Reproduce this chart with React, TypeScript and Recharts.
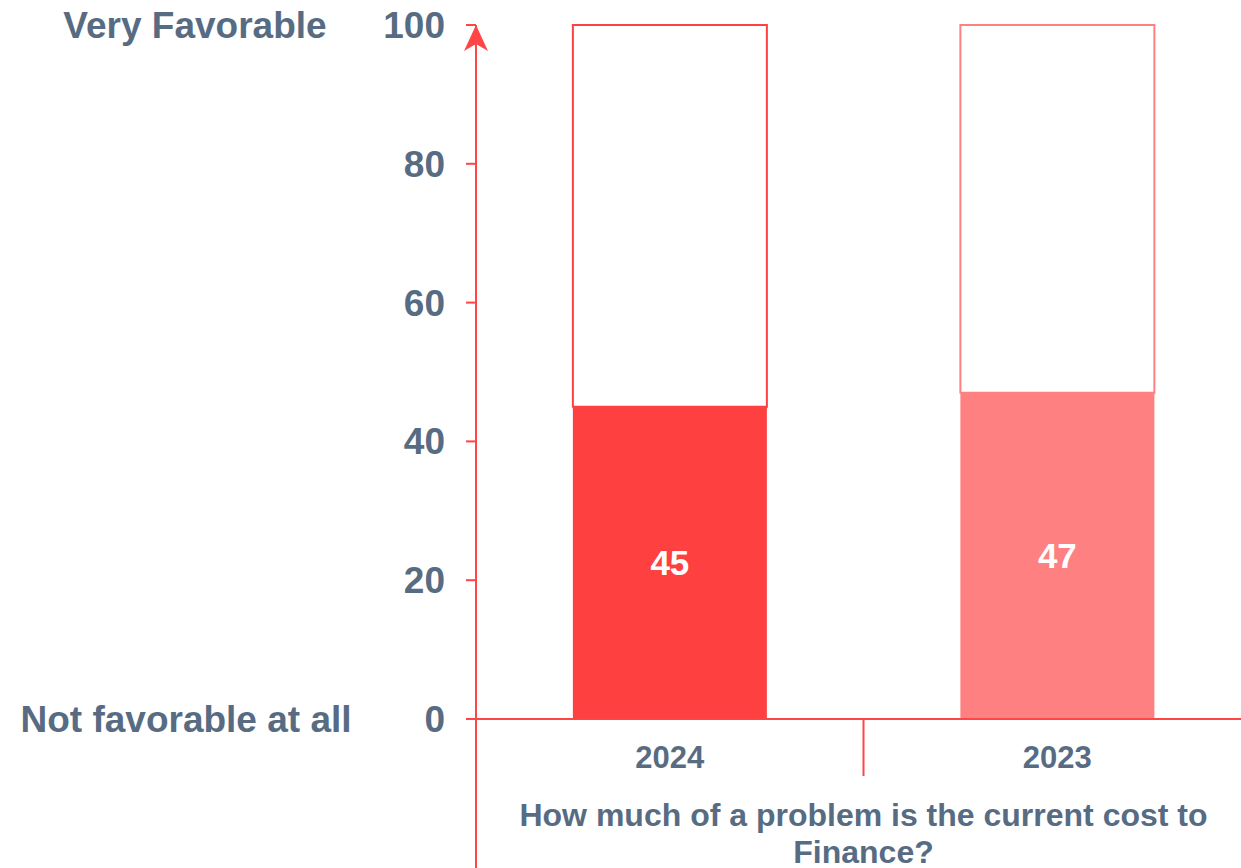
import { BarChart, Bar, XAxis, YAxis, Cell, LabelList } from 'recharts';

const categories = ['2024', '2023'];
const scores = [45, 47];
const barColors = ['#FF4040', '#FF8080'];
const yTicks = [0, 20, 40, 60, 80, 100];
const topLabel = 'Very Favorable';
const bottomLabel = 'Not favorable at all';
const titleLines = ['How much of a problem is the current cost to', 'Finance?'];

const data = categories.map((name, i) => ({
  name,
  value: scores[i],
  rest: 100 - scores[i],
}));

const CHART_W = 1251;
const CHART_H = 868;
const Y_W = 476;
const X_H = 149;
const TEXT = '#576C82';
const AXIS = '#FF4545';
const FONT = '"Liberation Sans", Arial, sans-serif';
const BAND = (CHART_W - Y_W) / categories.length;
// recharts hands the tick y as axis y + tickSize + tickMargin
const X_TICK_OFFSET = 8;

function YTick({ y, payload }: { y: number; payload: { value: number } }) {
  const v = payload.value;
  return (
    <g>
      <text
        x={Y_W - 31}
        y={y}
        dy='0.35em'
        textAnchor='end'
        fill={TEXT}
        fontSize={37}
        fontWeight='bold'
        fontFamily={FONT}
      >
        {v}
      </text>
      {v === 100 && (
        <>
          <text
            x={195}
            y={y}
            dy='0.35em'
            textAnchor='middle'
            fill={TEXT}
            fontSize={37}
            fontWeight='bold'
            fontFamily={FONT}
          >
            {topLabel}
          </text>
          <path
            d={`M${Y_W},${y} L${Y_W + 12},${y + 26} L${Y_W},${y + 19} L${Y_W - 12},${y + 26} Z`}
            fill={AXIS}
          />
        </>
      )}
      {v === 0 && (
        <>
          <text
            x={186}
            y={y}
            dy='0.35em'
            textAnchor='middle'
            fill={TEXT}
            fontSize={37}
            fontWeight='bold'
            fontFamily={FONT}
          >
            {bottomLabel}
          </text>
          <line x1={Y_W} y1={y} x2={Y_W} y2={y + 200} stroke={AXIS} strokeWidth={2} />
        </>
      )}
    </g>
  );
}

function XTick({ x, y, payload, index }: { x: number; y: number; payload: { value: string }; index: number }) {
  const axisY = y - X_TICK_OFFSET;
  return (
    <g>
      <text
        x={x}
        y={axisY + 38}
        dy='0.35em'
        textAnchor='middle'
        fill={TEXT}
        fontSize={31}
        fontWeight='bold'
        fontFamily={FONT}
      >
        {payload.value}
      </text>
      {index < categories.length - 1 && (
        <line x1={x + BAND / 2} y1={axisY} x2={x + BAND / 2} y2={axisY + 57} stroke={AXIS} strokeWidth={2} />
      )}
    </g>
  );
}

function XTitle({ viewBox }: { viewBox?: { x: number; y: number; width: number } }) {
  if (!viewBox) return null;
  const cx = viewBox.x + viewBox.width / 2;
  return (
    <text textAnchor='middle' fill={TEXT} fontSize={32} fontWeight='bold' fontFamily={FONT}>
      {titleLines.map((line, i) => (
        <tspan key={i} x={cx} y={viewBox.y + 96 + i * 37} dy='0.35em'>
          {line}
        </tspan>
      ))}
    </text>
  );
}

export default function App() {
  return (
    <div
      style={{
        position: 'absolute',
        left: 0,
        top: 0,
        width: 1241,
        height: 868,
        overflow: 'hidden',
        background: '#fff',
      }}
    >
      <BarChart
        width={CHART_W}
        height={CHART_H}
        data={data}
        margin={{ top: 25, right: 0, left: 0, bottom: 0 }}
        barCategoryGap='25%'
      >
        <XAxis
          dataKey='name'
          height={X_H}
          axisLine={{ stroke: AXIS, strokeWidth: 2 }}
          tickLine={false}
          // eslint-disable-next-line @typescript-eslint/no-explicit-any
          tick={XTick as any}
          interval={0}
          // eslint-disable-next-line @typescript-eslint/no-explicit-any
          label={{ content: XTitle as any }}
        />
        <YAxis
          type='number'
          domain={[0, 100]}
          ticks={yTicks}
          width={Y_W}
          axisLine={{ stroke: AXIS, strokeWidth: 2 }}
          tickLine={{ stroke: AXIS, strokeWidth: 2 }}
          tickSize={10}
          // eslint-disable-next-line @typescript-eslint/no-explicit-any
          tick={YTick as any}
        />
        <Bar dataKey='value' stackId='a' isAnimationActive={false}>
          {data.map((_, i) => (
            <Cell key={i} fill={barColors[i]} />
          ))}
          <LabelList
            dataKey='value'
            position='center'
            fill='#ffffff'
            fontSize={35}
            fontWeight='bold'
            fontFamily={FONT}
          />
        </Bar>
        <Bar dataKey='rest' stackId='a' isAnimationActive={false}>
          {data.map((_, i) => (
            <Cell key={i} fill='#ffffff' stroke={barColors[i]} strokeWidth={2} />
          ))}
        </Bar>
      </BarChart>
    </div>
  );
}
